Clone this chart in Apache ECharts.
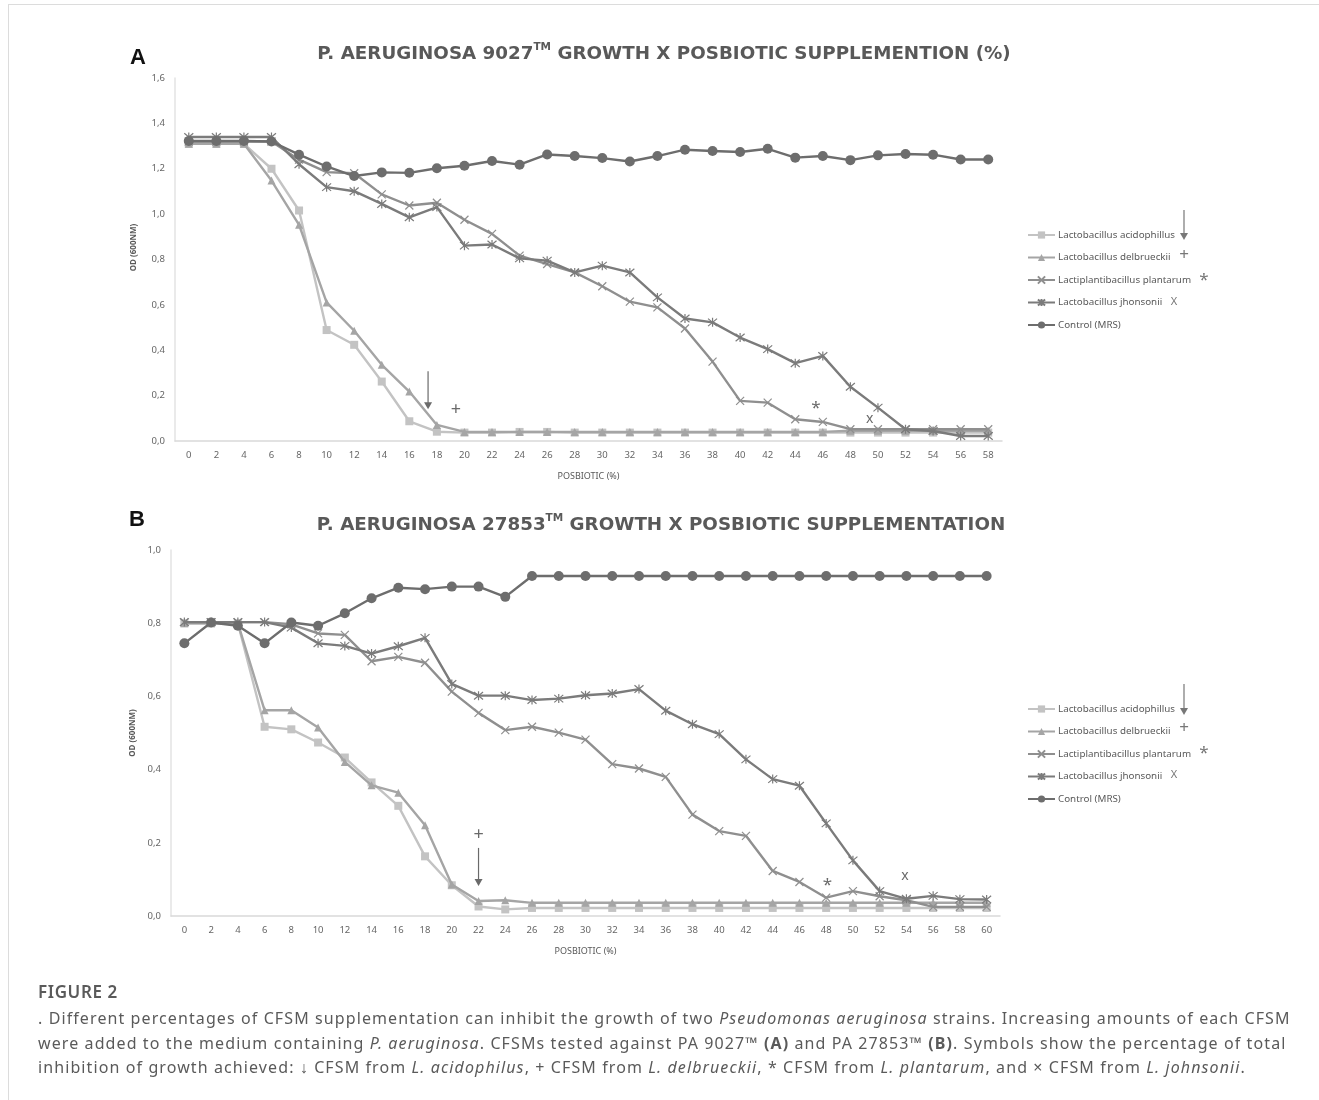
<!DOCTYPE html>
<html>
<head>
<meta charset="utf-8">
<script src="https://cdn.jsdelivr.net/npm/echarts@6/dist/echarts.min.js"></script>
<style>
  html, body { margin: 0; padding: 0; background: #fff; }
  #frame { position: absolute; left: 8px; top: 4px; width: 1311px; height: 1096px; border-left: 1px solid #dcdcdc; border-top: 1px solid #dcdcdc; }
  #chart { position: absolute; left: 0; top: 0; width: 1319px; height: 1100px; }
  #caption { position: absolute; left: 38px; top: 978px; font-family: "Noto Sans", sans-serif; color: #5a5a5a; white-space: nowrap; }
  #caption .fig { font-size: 17px; font-weight: 600; line-height: 28px; letter-spacing: 0.6px; }
  #caption .txt { font-size: 16px; line-height: 24.5px; letter-spacing: 1.1px; }
</style>
</head>
<body>
<div id="frame"></div>
<div id="chart"></div>
<div id="caption">
  <div class="fig">FIGURE 2</div>
  <div class="txt">. Different percentages of CFSM supplementation can inhibit the growth of two <i>Pseudomonas aeruginosa</i> strains. Increasing amounts of each CFSM<br>were added to the medium containing <i>P. aeruginosa</i>. CFSMs tested against PA 9027™ <b>(A)</b> and PA 27853™ <b>(B)</b>. Symbols show the percentage of total<br>inhibition of growth achieved: ↓ CFSM from <i>L. acidophilus</i>, + CFSM from <i>L. delbrueckii</i>, * CFSM from <i>L. plantarum</i>, and × CFSM from <i>L. johnsonii</i>.</div>
</div>
<script>
// ---------- data ----------
const seriesNames = ['Lactobacillus acidophillus', 'Lactobacillus delbrueckii', 'Lactiplantibacillus plantarum', 'Lactobacillus jhonsonii', 'Control (MRS)'];

const xLabelsA = ['0','2','4','6','8','10','12','14','16','18','20','22','24','26','28','30','32','34','36','38','40','42','44','46','48','50','52','54','56','58'];
const acidA = [1.31,1.31,1.31,1.20,1.016,0.489,0.424,0.262,0.087,0.041,0.037,0.037,0.040,0.040,0.037,0.037,0.037,0.037,0.037,0.037,0.037,0.037,0.037,0.037,0.037,0.037,0.037,0.037,0.037,0.037];
const delbA = [1.31,1.31,1.31,1.148,0.953,0.611,0.486,0.336,0.218,0.071,0.040,0.040,0.040,0.040,0.040,0.040,0.040,0.040,0.040,0.040,0.040,0.040,0.040,0.040,0.045,0.045,0.045,0.045,0.045,0.045];
const plantA = [1.32,1.32,1.32,1.32,1.24,1.185,1.18,1.087,1.038,1.05,0.975,0.913,0.817,0.78,0.743,0.682,0.614,0.589,0.496,0.35,0.177,0.169,0.096,0.084,0.052,0.052,0.052,0.052,0.052,0.052];
const johnA = [1.34,1.34,1.34,1.34,1.22,1.119,1.101,1.045,0.986,1.031,0.861,0.866,0.805,0.795,0.743,0.773,0.743,0.633,0.54,0.523,0.456,0.405,0.343,0.375,0.239,0.147,0.052,0.044,0.022,0.022];
const ctrlA = [1.322,1.322,1.322,1.32,1.262,1.21,1.168,1.184,1.182,1.202,1.213,1.234,1.218,1.263,1.256,1.247,1.232,1.256,1.284,1.278,1.274,1.288,1.249,1.256,1.238,1.259,1.265,1.262,1.241,1.241];

const xLabelsB = ['0','2','4','6','8','10','12','14','16','18','20','22','24','26','28','30','32','34','36','38','40','42','44','46','48','50','52','54','56','58','60'];
const acidB = [0.80,0.80,0.80,0.517,0.51,0.474,0.433,0.365,0.301,0.163,0.084,0.026,0.018,0.022,0.022,0.022,0.022,0.022,0.022,0.022,0.022,0.022,0.022,0.022,0.022,0.022,0.022,0.022,0.022,0.022,0.022];
const delbB = [0.80,0.80,0.80,0.562,0.562,0.515,0.421,0.357,0.337,0.248,0.086,0.041,0.043,0.036,0.036,0.036,0.036,0.036,0.036,0.036,0.036,0.036,0.036,0.036,0.036,0.036,0.036,0.036,0.036,0.036,0.036];
const plantB = [0.803,0.803,0.803,0.803,0.797,0.772,0.768,0.696,0.708,0.692,0.613,0.555,0.508,0.517,0.501,0.482,0.415,0.403,0.38,0.277,0.232,0.219,0.123,0.093,0.05,0.068,0.054,0.043,0.025,0.025,0.025];
const johnB = [0.803,0.803,0.803,0.803,0.788,0.745,0.738,0.717,0.737,0.76,0.634,0.602,0.602,0.59,0.594,0.603,0.608,0.62,0.561,0.524,0.497,0.428,0.374,0.356,0.253,0.152,0.068,0.047,0.055,0.046,0.045];
const ctrlB = [0.745,0.802,0.793,0.745,0.802,0.793,0.827,0.868,0.897,0.893,0.9,0.9,0.872,0.929,0.929,0.929,0.929,0.929,0.929,0.929,0.929,0.929,0.929,0.929,0.929,0.929,0.929,0.929,0.929,0.929,0.929];

// annotation positions: [category index (fractional), value, text]
const notesA = [[9.69, 0.135, '+'], [22.75, 0.157, '*'], [24.7, 0.096, 'x']];
const arrowA = [8.68, 0.307, 0.14];
const notesB = [[11, 0.221, '+'], [24.05, 0.093, '*'], [26.95, 0.109, 'x']];
const arrowB = [11, 0.186, 0.082];

// ---------- style ----------
const colors = ['#c3c3c3', '#a5a5a5', '#8f8f8f', '#7b7b7b', '#6d6d6d'];
const xPath = 'path://M0,0L10,10M10,0L0,10';
const starPath = 'path://M0,0L10,10M10,0L0,10M5,-1L5,11';
const symbols = ['rect', 'triangle', xPath, starPath, 'circle'];
const symSizes = [8, 8, 8, 9, 10];

const chart = echarts.init(document.getElementById('chart'));
const fmt = v => v.toFixed(1).replace('.', ',');

function makeSeries(dataArr, gi) {
  return dataArr.map((d, i) => ({
    name: seriesNames[i],
    type: 'line',
    xAxisIndex: gi, yAxisIndex: gi,
    data: d,
    symbol: symbols[i],
    symbolSize: symSizes[i],
    showAllSymbol: true,
    lineStyle: { color: colors[i], width: 2.4 },
    itemStyle: { color: colors[i], borderColor: colors[i], borderWidth: (i === 2 || i === 3) ? 1.2 : 0 },
    emphasis: { disabled: true },
    animation: false,
    z: 2 + i
  }));
}

const axisLabelX = { color: '#666', fontSize: 9.5, fontFamily: 'Noto Sans', interval: 0, margin: 9 };
const axisLabelY = { color: '#666', fontSize: 9.5, fontFamily: 'Noto Sans', formatter: fmt, margin: 10 };
const titleRich = {
  t: { fontSize: 18.3, fontWeight: 'bold', color: '#595959', fontFamily: 'DejaVu Sans', lineHeight: 24 },
  s: { fontSize: 10.5, fontWeight: 'bold', color: '#595959', fontFamily: 'DejaVu Sans', verticalAlign: 'top', lineHeight: 24, padding: [0, 0, 8, 0] }
};

const legendBase = {
  orient: 'vertical', left: 1022, itemWidth: 27, itemHeight: 9, itemGap: 10.5,
  textStyle: { color: '#595959', fontSize: 9.8, fontFamily: 'Noto Sans', lineHeight: 12, padding: [0, 0, 0, -2] },
  selectedMode: false,
  data: seriesNames
};

const option = {
  animation: false,
  title: [
    { text: '{t|P. AERUGINOSA 9027}{s|TM}{t| GROWTH X POSBIOTIC SUPPLEMENTION (%)}', left: 659, top: 37, textAlign: 'center', textStyle: { rich: titleRich } },
    { text: '{t|P. AERUGINOSA 27853}{s|TM}{t| GROWTH X POSBIOTIC SUPPLEMENTATION}', left: 656, top: 508, textAlign: 'center', textStyle: { rich: titleRich } },
    { text: 'A', left: 125, top: 42, textStyle: { fontSize: 22, fontWeight: 'bold', color: '#111', fontFamily: 'Liberation Sans' } },
    { text: 'B', left: 124, top: 504, textStyle: { fontSize: 22, fontWeight: 'bold', color: '#111', fontFamily: 'Liberation Sans' } }
  ],
  legend: [
    Object.assign({}, legendBase, { top: 224 }),
    Object.assign({}, legendBase, { top: 698 })
  ],
  grid: [
    { left: 175, right: 317, top: 78, height: 363 },
    { left: 171, right: 319, top: 550, height: 366 }
  ],
  xAxis: [
    { type: 'category', gridIndex: 0, data: xLabelsA, boundaryGap: true,
      name: 'POSBIOTIC (%)', nameLocation: 'middle', nameGap: 31,
      nameTextStyle: { color: '#595959', fontSize: 9, fontFamily: 'Noto Sans' },
      axisLine: { lineStyle: { color: '#d9d9d9', width: 1.5 } }, axisTick: { show: false }, axisLabel: axisLabelX },
    { type: 'category', gridIndex: 1, data: xLabelsB, boundaryGap: true,
      name: 'POSBIOTIC (%)', nameLocation: 'middle', nameGap: 31,
      nameTextStyle: { color: '#595959', fontSize: 9, fontFamily: 'Noto Sans' },
      axisLine: { lineStyle: { color: '#d9d9d9', width: 1.5 } }, axisTick: { show: false }, axisLabel: axisLabelX }
  ],
  yAxis: [
    { type: 'value', gridIndex: 0, min: 0, max: 1.6, interval: 0.2,
      name: 'OD (600NM)', nameLocation: 'middle', nameGap: 37, nameRotate: 90,
      nameTextStyle: { color: '#595959', fontSize: 8, fontWeight: 'bold', fontFamily: 'Noto Sans', padding: [0, 0, 0, 24] },
      axisLine: { show: true, lineStyle: { color: '#e3e3e3', width: 1.5 } }, axisTick: { show: false },
      splitLine: { show: false }, axisLabel: axisLabelY },
    { type: 'value', gridIndex: 1, min: 0, max: 1.0, interval: 0.2,
      name: 'OD (600NM)', nameLocation: 'middle', nameGap: 34, nameRotate: 90,
      nameTextStyle: { color: '#595959', fontSize: 8, fontWeight: 'bold', fontFamily: 'Noto Sans' },
      axisLine: { show: true, lineStyle: { color: '#e3e3e3', width: 1.5 } }, axisTick: { show: false },
      splitLine: { show: false }, axisLabel: axisLabelY }
  ],
  series: makeSeries([acidA, delbA, plantA, johnA, ctrlA], 0).concat(makeSeries([acidB, delbB, plantB, johnB, ctrlB], 1))
};
chart.setOption(option);

// ---------- annotations (positioned through the axes) ----------
function toPx(gi, idx, val) {
  const p0 = chart.convertToPixel({ gridIndex: gi }, [0, val]);
  const p1 = chart.convertToPixel({ gridIndex: gi }, [1, val]);
  return [p0[0] + idx * (p1[0] - p0[0]), p0[1]];
}
function arrowShape(x, y1, y2, color) {
  return [
    { type: 'line', shape: { x1: x, y1: y1, x2: x, y2: y2 - 6 }, style: { stroke: color, lineWidth: 1.2 }, z: 100 },
    { type: 'polygon', shape: { points: [[x - 4, y2 - 7], [x + 4, y2 - 7], [x, y2]] }, style: { fill: color }, z: 100 }
  ];
}
function noteText(x, y, t) {
  const size = t === 'x' ? 14 : (t === '*' ? 17 : 18);
  return { type: 'text', x: x, y: y, style: { text: t, fill: '#6a6a6a', fontSize: size, fontFamily: 'Noto Sans', align: 'center', verticalAlign: 'middle' }, z: 100 };
}
const g = [];
[[0, notesA, arrowA], [1, notesB, arrowB]].forEach(([gi, notes, arr]) => {
  notes.forEach(n => { const p = toPx(gi, n[0], n[1]); g.push(noteText(p[0], p[1] + (n[2] === '*' ? 3 : 0), n[2])); });
  const top = toPx(gi, arr[0], arr[1]); const bot = toPx(gi, arr[0], arr[2]);
  g.push(...arrowShape(top[0], top[1], bot[1], '#6a6a6a'));
});
// symbols next to the legend entries
[[210, 240], [684, 715]].forEach(([aTop, aBot], k) => {
  const base = k === 0 ? 235 : 708;
  g.push(...arrowShape(1184, aTop, aBot, '#777'));
  g.push({ type: 'text', x: 1184, y: base + 20, style: { text: '+', fill: '#777', fontSize: 17, fontFamily: 'Noto Sans', align: 'center', verticalAlign: 'middle' } });
  g.push({ type: 'text', x: 1204, y: base + 45, style: { text: '*', fill: '#777', fontSize: 17, fontFamily: 'Noto Sans', align: 'center', verticalAlign: 'middle' } });
  g.push({ type: 'text', x: 1174, y: base + 67, style: { text: 'X', fill: '#777', fontSize: 11, fontFamily: 'Noto Sans', align: 'center', verticalAlign: 'middle' } });
});
chart.setOption({ graphic: g });
</script>
</body>
</html>
